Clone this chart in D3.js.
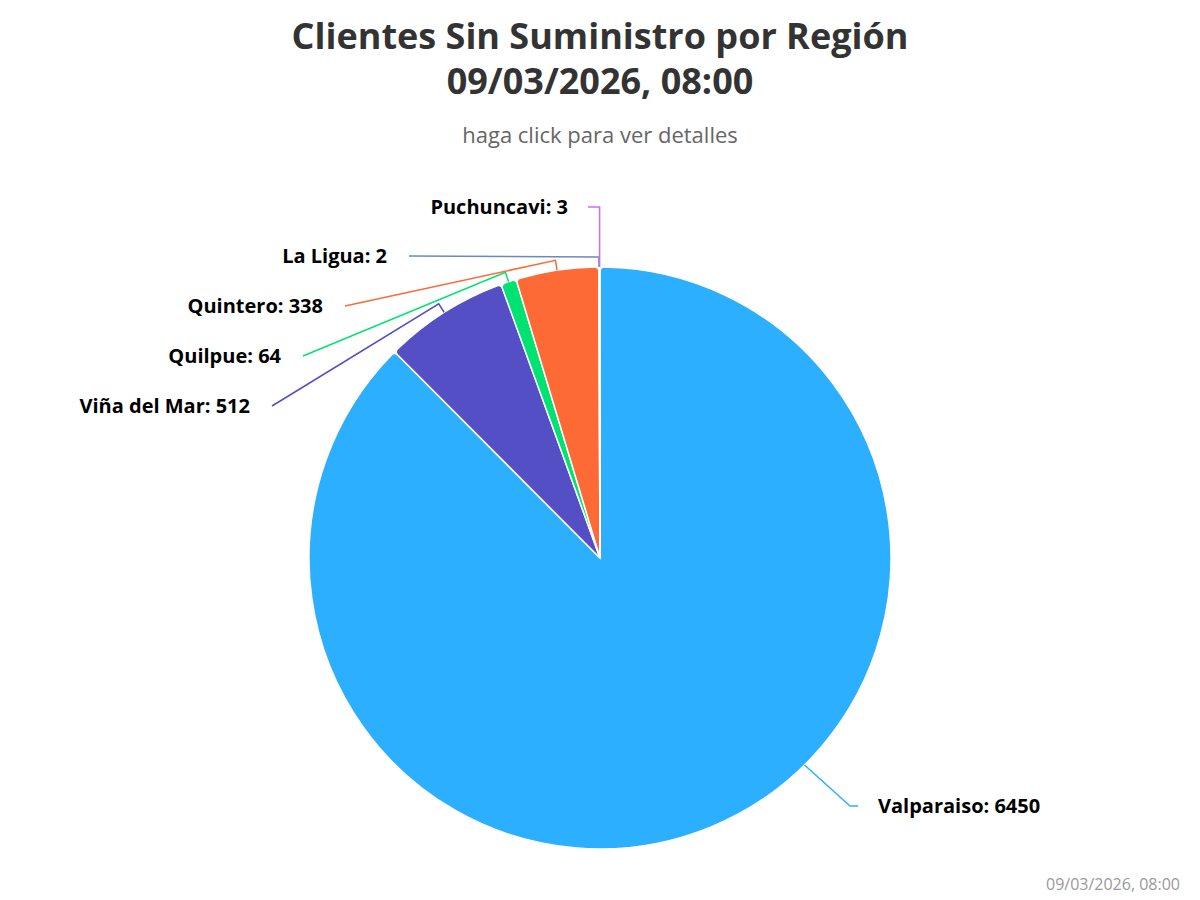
<!DOCTYPE html>
<html><head><meta charset="utf-8">
<script src="https://cdn.jsdelivr.net/npm/d3@7"></script>
<style>body{margin:0;background:#fff;font-family:"Segoe UI","Open Sans","DejaVu Sans",sans-serif}</style>
</head><body><div id="chart"></div>
<script>
const regions = ['Valparaiso','Viña del Mar','Quilpue','Quintero','La Ligua','Puchuncavi']
const clients = [6450,512,64,338,2,3]
const colors = ['#2caffe','#544fc5','#00e272','#fe6a35','#6b8abc','#d568fb']
// label placement: y of label baseline centre
const labelY = [806,406,356,306,256,207]

const W=1200,H=900,cx=600,cy=558,R=291
const svg=d3.select('#chart').append('svg').attr('width',W).attr('height',H)

svg.append('text').attr('x',600).attr('y',49).attr('text-anchor','middle')
  .style('font-size','36px').style('font-weight','bold').attr('fill','#333').text('Clientes Sin Suministro por Región')
svg.append('text').attr('x',600).attr('y',94).attr('text-anchor','middle')
  .style('font-size','36px').style('font-weight','bold').attr('fill','#333').text('09/03/2026, 08:00')
svg.append('text').attr('x',600).attr('y',143).attr('text-anchor','middle')
  .style('font-size','22px').attr('fill','#666').text('haga click para ver detalles')
svg.append('text').attr('x',1180).attr('y',890).attr('text-anchor','end')
  .style('font-size','16px').attr('fill','#999').text('09/03/2026, 08:00')

const pie=d3.pie().sort(null).value(d=>d)
const arcs=pie(clients)
const arc=d3.arc().innerRadius(0).outerRadius(R).cornerRadius(4)
const g=svg.append('g').attr('transform',`translate(${cx},${cy})`)

g.selectAll('path.slice').data(arcs).join('path').attr('class','slice')
  .attr('d',arc).attr('fill',(d,i)=>colors[i]).attr('stroke','#fff').attr('stroke-width',1.5)

const pt=(a,r)=>[Math.sin(a)*r,-Math.cos(a)*r]
const leftEnd=[0,-350,-319,-277,-213,-32]
arcs.forEach((d,i)=>{
  const a=(d.startAngle+d.endAngle)/2
  const p0=pt(a,R), p1=pt(a,R+10)
  const right=Math.sin(a)>0.05
  const ly=labelY[i]-cy
  let tx, path
  if(right){
    const ey=ly-41, ex=Math.sqrt(R*R-ey*ey)
    tx=278
    path=`M${ex},${ey}L${tx-28},${ly}L${tx-20},${ly}`
  } else if(i===5){
    tx=leftEnd[i]
    path=`M${tx+20},${ly}L${p0[0]},${ly}L${p0[0]},${p0[1]}`
  } else {
    tx=leftEnd[i]
    path=`M${tx+22},${ly}L${p1[0]},${p1[1]}L${p0[0]},${p0[1]}`
  }
  g.append('path').attr('d',path).attr('fill','none').attr('stroke',colors[i]).attr('stroke-width',1.5)
  g.append('text').attr('x',tx).attr('y',ly).attr('dy','0.35em')
    .attr('text-anchor',right?'start':'end').style('font-size','20px').style('font-weight','bold')
    .attr('fill','#000').text(regions[i]+': '+clients[i])
})
</script></body></html>
